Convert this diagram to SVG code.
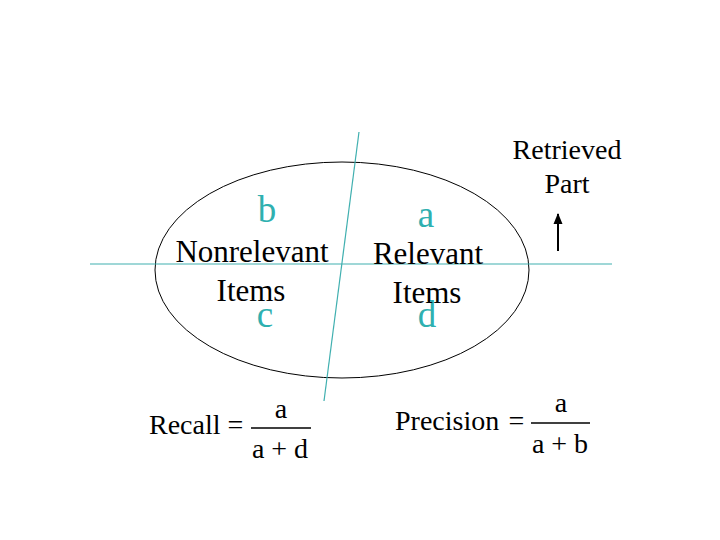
<svg xmlns="http://www.w3.org/2000/svg" width="720" height="540" viewBox="0 0 720 540">
  <style>
    .lbl { font-family: "Liberation Serif", "Times New Roman", serif; fill: #000; }
    .big { font-size: 31px; }
    .let { font-family: "Liberation Serif", "Times New Roman", serif; font-size: 37px; fill: #2fb0b0; }
    .sm { font-size: 28px; }
    .line { stroke: #40b0b0; stroke-width: 1.2; fill: none; }
  </style>
  <defs>
    <marker id="arrowhead" viewBox="0 0 10 10" refX="5" refY="1" markerWidth="8" markerHeight="10" markerUnits="userSpaceOnUse" orient="auto-start-reverse">
      <path d="M0,10 L5,0 L10,10 Z" fill="#000"/>
    </marker>
  </defs>
  <rect width="720" height="540" fill="#fff"/>

  <g id="set-ellipse">
    <ellipse cx="342" cy="270" rx="187" ry="108" fill="none" stroke="#000" stroke-width="1"/>
  </g>

  <g id="connectors">
    <line class="line" x1="90" y1="264" x2="612" y2="264"/>
    <line class="line" x1="359" y1="132" x2="324" y2="401"/>
    <line x1="558" y1="251" x2="558" y2="214" stroke="#000" stroke-width="2" transform="" marker-start="none"/>
    <path d="M553.5,224 L558,213 L562.5,224 Z" fill="#000"/>
  </g>

  <g id="label-b"><text class="let" x="267" y="222" text-anchor="middle">b</text></g>
  <g id="label-c"><text class="let" x="265" y="327" text-anchor="middle">c</text></g>
  <g id="label-a"><text class="let" x="426" y="227" text-anchor="middle">a</text></g>
  <g id="label-d"><text class="let" x="427" y="327" text-anchor="middle">d</text></g>

  <g id="nonrelevant">
    <text class="lbl big" x="252" y="262" text-anchor="middle">Nonrelevant</text>
    <text class="lbl big" x="251" y="301" text-anchor="middle">Items</text>
  </g>
  <g id="relevant">
    <text class="lbl big" x="428" y="264" text-anchor="middle">Relevant</text>
    <text class="lbl big" x="427" y="303" text-anchor="middle">Items</text>
  </g>
  <g id="retrieved">
    <text class="lbl sm" x="567" y="159" text-anchor="middle">Retrieved</text>
    <text class="lbl sm" x="567" y="193" text-anchor="middle">Part</text>
  </g>

  <g id="recall">
    <text class="lbl sm" x="149" y="434">Recall</text>
    <text class="lbl sm" x="235.5" y="434" text-anchor="middle">=</text>
    <text class="lbl sm" x="281" y="418" text-anchor="middle">a</text>
    <line x1="251" y1="428" x2="311" y2="428" stroke="#000" stroke-width="1.3"/>
    <text class="lbl sm" x="280" y="458" text-anchor="middle">a + d</text>
  </g>
  <g id="precision">
    <text class="lbl sm" x="395" y="430">Precision</text>
    <text class="lbl sm" x="516.5" y="430" text-anchor="middle">=</text>
    <text class="lbl sm" x="561" y="412" text-anchor="middle">a</text>
    <line x1="531" y1="423" x2="590" y2="423" stroke="#000" stroke-width="1.3"/>
    <text class="lbl sm" x="560" y="453" text-anchor="middle">a + b</text>
  </g>
</svg>
